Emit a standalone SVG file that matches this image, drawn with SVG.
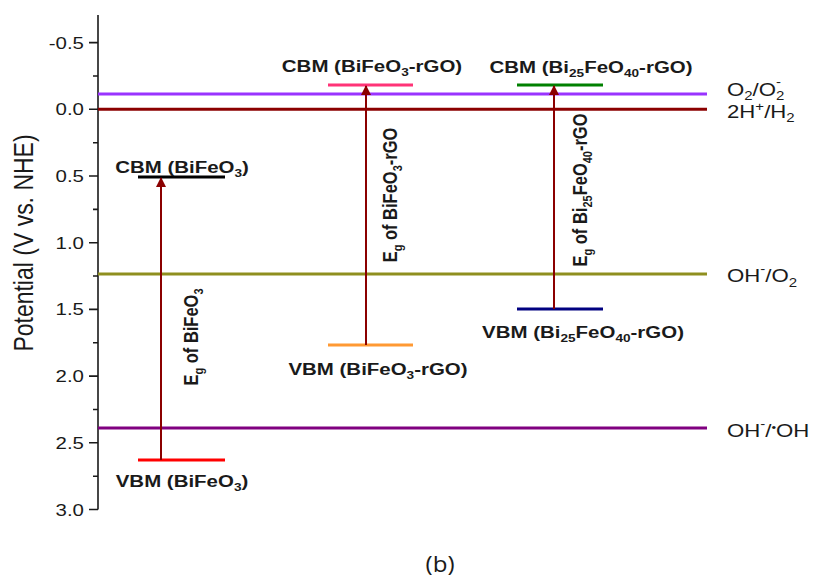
<svg xmlns="http://www.w3.org/2000/svg" width="813" height="580" viewBox="0 0 813 580">
<defs>
<style>
text{font-family:"Liberation Sans",Arial,sans-serif;fill:#1a1a1a}
.tick{font-size:16.5px;text-anchor:end}
.band{font-size:16.5px;font-weight:bold;text-anchor:middle}
.eg{font-size:16.5px;font-weight:bold;text-anchor:middle}
.ref{font-size:18.5px}
.ax{stroke:#1a1a1a;stroke-width:1.6;fill:none}
.lvl{stroke-width:3;fill:none}
.bl{stroke-width:3;fill:none}
.arr{stroke:#8B0000;stroke-width:2;fill:none;marker-end:url(#ah)}
</style>
<marker id="ah" viewBox="0 0 10 10" refX="9" refY="5" markerWidth="5" markerHeight="5.5" orient="auto" markerUnits="strokeWidth">
<path d="M0,0 L10,5 L0,10 z" fill="#8B0000"/>
</marker>
</defs>
<rect width="813" height="580" fill="#ffffff"/>

<g id="axis">
<path class="ax" d="M98,15 V509.5 M89,42.6 H98 M89,109.3 H98 M89,176 H98 M89,242.7 H98 M89,309.4 H98 M89,376.1 H98 M89,442.8 H98 M89,509.5 H98 M93,76 H98 M93,142.7 H98 M93,209.4 H98 M93,276 H98 M93,342.8 H98 M93,409.5 H98 M93,476.2 H98"/>
<text class="tick" transform="translate(84,48.6) scale(1.24,1)">-0.5</text>
<text class="tick" transform="translate(84,115.3) scale(1.24,1)">0.0</text>
<text class="tick" transform="translate(84,182) scale(1.24,1)">0.5</text>
<text class="tick" transform="translate(84,248.7) scale(1.24,1)">1.0</text>
<text class="tick" transform="translate(84,315.4) scale(1.24,1)">1.5</text>
<text class="tick" transform="translate(84,382.1) scale(1.24,1)">2.0</text>
<text class="tick" transform="translate(84,448.8) scale(1.24,1)">2.5</text>
<text class="tick" transform="translate(84,515.5) scale(1.24,1)">3.0</text>
<text transform="translate(33,243) scale(1.2,1) rotate(-90)" style="font-size:23px;text-anchor:middle">Potential (V vs. NHE)</text>
</g>

<g id="level-O2">
<line class="lvl" x1="98" y1="94" x2="707" y2="94" stroke="#9933FF"/>
<text class="ref" transform="translate(727,96) scale(1.2,1)">O<tspan font-size="12.5" dy="4">2</tspan><tspan dy="-4">/O</tspan><tspan font-size="12.5" dy="4">2</tspan><tspan font-size="12.5" dx="-7" dy="-14">-</tspan></text>
</g>
<g id="level-H2">
<line class="lvl" x1="98" y1="109.3" x2="707" y2="109.3" stroke="#8B0000"/>
<text class="ref" transform="translate(727,118) scale(1.2,1)">2H<tspan font-size="12.5" dy="-7">+</tspan><tspan dy="7">/H</tspan><tspan font-size="12.5" dy="4">2</tspan></text>
</g>
<g id="level-OH-O2">
<line class="lvl" x1="98" y1="274" x2="707" y2="274" stroke="#8F8F1F"/>
<text class="ref" transform="translate(727,282) scale(1.2,1)">OH<tspan font-size="12.5" dy="-9">-</tspan><tspan dy="9">/O</tspan><tspan font-size="12.5" dy="5">2</tspan></text>
</g>
<g id="level-OH">
<line class="lvl" x1="98" y1="428" x2="707" y2="428" stroke="#800080"/>
<text class="ref" transform="translate(727,437) scale(1.2,1)">OH<tspan font-size="12.5" dy="-9">-</tspan><tspan dy="9">/</tspan><tspan font-size="11" dy="-6">•</tspan><tspan dy="6">OH</tspan></text>
</g>

<g id="cbm-bifeo3">
<line class="bl" x1="138" y1="177" x2="225" y2="177" stroke="#000000"/>
<text class="band" transform="translate(182,173) scale(1.24,1)">CBM (BiFeO<tspan font-size="11" dy="4">3</tspan><tspan dy="-4">)</tspan></text>
</g>
<g id="vbm-bifeo3">
<line class="bl" x1="138" y1="460" x2="225" y2="460" stroke="#FF0000"/>
<text class="band" transform="translate(182,487) scale(1.24,1)">VBM (BiFeO<tspan font-size="11" dy="4">3</tspan><tspan dy="-4">)</tspan></text>
</g>
<g id="cbm-bifeo3-rgo">
<line class="bl" x1="328" y1="85" x2="413" y2="85" stroke="#FF3377"/>
<text class="band" transform="translate(372,72) scale(1.24,1)">CBM (BiFeO<tspan font-size="11" dy="4">3</tspan><tspan dy="-4">-rGO)</tspan></text>
</g>
<g id="vbm-bifeo3-rgo">
<line class="bl" x1="328" y1="345" x2="413" y2="345" stroke="#FF9933"/>
<text class="band" transform="translate(378,375) scale(1.24,1)">VBM (BiFeO<tspan font-size="11" dy="4">3</tspan><tspan dy="-4">-rGO)</tspan></text>
</g>
<g id="cbm-bi25feo40-rgo">
<line class="bl" x1="517" y1="85" x2="603" y2="85" stroke="#008000"/>
<text class="band" transform="translate(591,73) scale(1.24,1)">CBM (Bi<tspan font-size="11" dy="4">25</tspan><tspan dy="-4">FeO</tspan><tspan font-size="11" dy="4">40</tspan><tspan dy="-4">-rGO)</tspan></text>
</g>
<g id="vbm-bi25feo40-rgo">
<line class="bl" x1="517" y1="309" x2="603" y2="309" stroke="#000080"/>
<text class="band" transform="translate(583,338) scale(1.24,1)">VBM (Bi<tspan font-size="11" dy="4">25</tspan><tspan dy="-4">FeO</tspan><tspan font-size="11" dy="4">40</tspan><tspan dy="-4">-rGO)</tspan></text>
</g>

<g id="connectors">
<line class="arr" x1="161" y1="460" x2="161" y2="178"/>
<line class="arr" x1="366" y1="345" x2="366" y2="86"/>
<line class="arr" x1="554" y1="309" x2="554" y2="86"/>
</g>

<g id="gap-labels">
<text class="eg" transform="translate(198,337) scale(1.24,1) rotate(-90)">E<tspan font-size="11" dy="4">g</tspan><tspan dy="-4"> of BiFeO</tspan><tspan font-size="11" dy="4">3</tspan></text>
<text class="eg" transform="translate(397,195) scale(1.24,1) rotate(-90)">E<tspan font-size="11" dy="4">g</tspan><tspan dy="-4"> of BiFeO</tspan><tspan font-size="11" dy="4">3</tspan><tspan dy="-4">-rGO</tspan></text>
<text class="eg" transform="translate(587,190) scale(1.24,1) rotate(-90)">E<tspan font-size="11" dy="4">g</tspan><tspan dy="-4"> of Bi</tspan><tspan font-size="11" dy="4">25</tspan><tspan dy="-4">FeO</tspan><tspan font-size="11" dy="4">40</tspan><tspan dy="-4">-rGO</tspan></text>
</g>

<text transform="translate(440,572) scale(1.15,1)" style="font-family:'Open Sans','DejaVu Sans',sans-serif;font-size:21px;text-anchor:middle">(b)</text>
</svg>
